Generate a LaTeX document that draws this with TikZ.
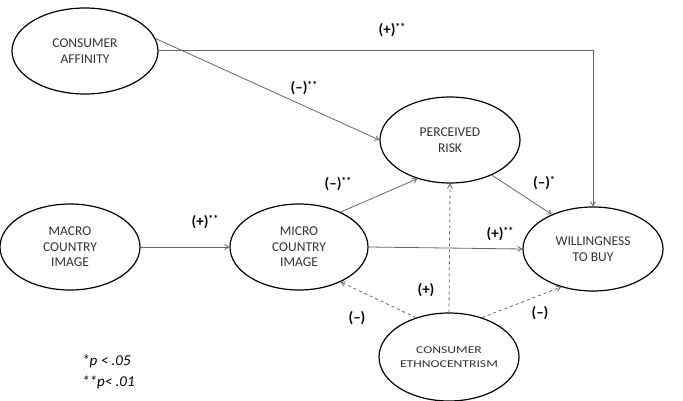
\documentclass[tikz,border=0pt]{standalone}
\usepackage{fontspec}
\setmainfont{Carlito}
\usetikzlibrary{shapes.geometric,arrows.meta}
\newcommand{\sg}[1]{\raisebox{0.28em}{\fontsize{10}{10}\selectfont #1}}
\begin{document}
\begin{tikzpicture}[x=1pt,y=-1pt,
  construct/.style={ellipse,draw=black,line width=1.2pt,minimum width=#1,minimum height=86pt,inner sep=0pt,align=center,font=\fontsize{13.5}{15.5}\selectfont,text=black!80},
  construct/.default=140pt,
  path/.style={draw=black!60,line width=0.8pt,-{Straight Barb[length=4pt,width=5pt]}},
  dpath/.style={path,dashed},
  lab/.style={font=\bfseries\fontsize{15}{17}\selectfont,inner sep=1pt}]
\useasboundingbox (0,0) rectangle (683,401);
\node[construct=146pt] (ca) at (85,51) {CONSUMER\\AFFINITY};
\node[construct] (pr) at (450,140) {PERCEIVED\\RISK};
\node[construct] (mac) at (70,247) {MACRO\\COUNTRY\\IMAGE};
\node[construct=138pt] (mic) at (299,247) {MICRO\\COUNTRY\\IMAGE};
\node[construct,minimum height=84pt] (wtb) at (593,249) {WILLINGNESS\\TO BUY};
\node[construct,minimum height=88pt,font=\fontsize{10.5}{14}\selectfont] (ce) at (449,357) {\scalebox{1.3}[1]{CONSUMER}\\\scalebox{1.3}[1]{ETHNOCENTRISM}};
\coordinate (corner) at (593,50);
\draw[path] (ca.east |- 0,50) -- (corner) -- (wtb.north);
\draw[path] (ca.10) -- (pr.west);
\draw[path] (mac.east) -- (mic.west);
\draw[path] (mic.40) -- (pr.230);
\draw[path] (pr.-40) -- (wtb.140);
\draw[path] (mic.east) -- (wtb.west);
\draw[dpath] (ce.north) -- (pr.south);
\draw[dpath] (ce.130) -- (mic.-40);
\draw[dpath] (ce.50) -- (wtb.-130);
\node[lab] (l1) at (392,30) {(+)\sg{**}};
\node[lab] (l2) at (304,88) {(–)\sg{**}};
\node[lab] (l3) at (205,222) {(+)\sg{**}};
\node[lab] (l4) at (338,184) {(–)\sg{**}};
\node[lab] (l5) at (544,183) {(–)\sg{*}};
\node[lab] (l6) at (500,234) {(+)\sg{**}};
\node[lab] (l7) at (426,290) {(+)};
\node[lab] (l8) at (357,318) {(–)};
\node[lab] (l9) at (540,313) {(–)};
\node[font=\itshape\fontsize{15}{21}\selectfont,align=left,anchor=north west,inner sep=0pt] (fn) at (82,355) {*\textit{p} < .05\\**\textit{p}< .01};
\end{tikzpicture}
\end{document}
